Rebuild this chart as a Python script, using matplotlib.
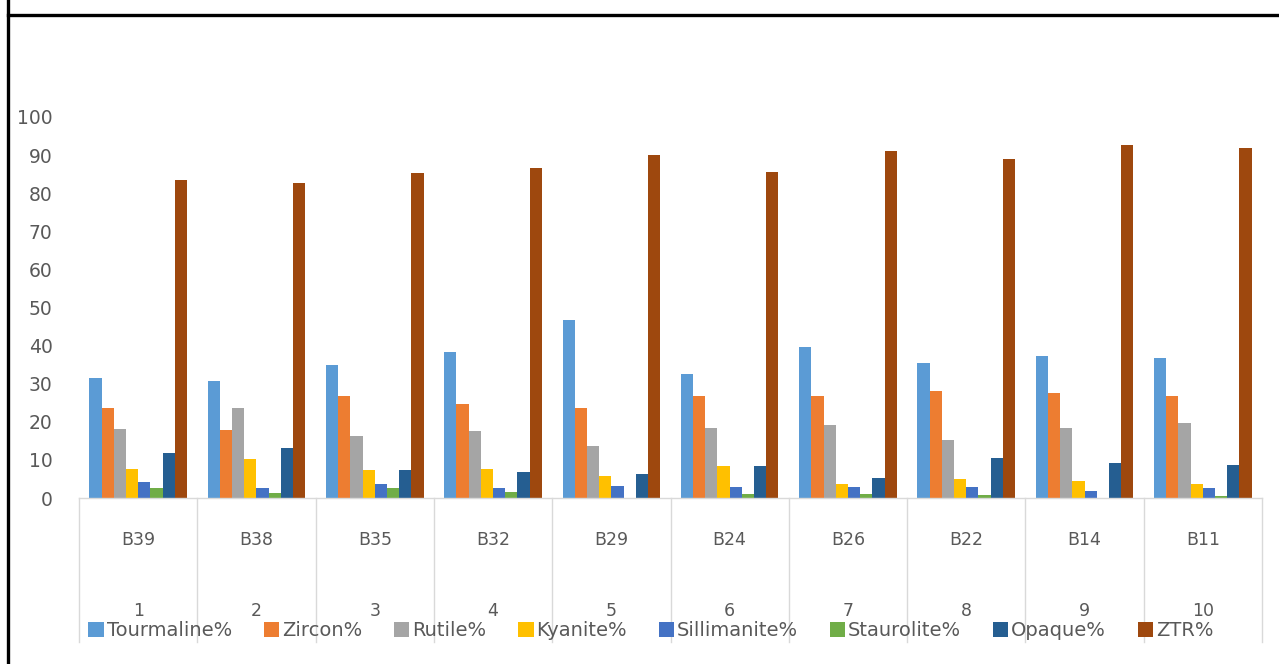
import matplotlib
matplotlib.use("Agg")
import matplotlib.pyplot as plt
from matplotlib.lines import Line2D
import numpy as np

samples = ["B39", "B38", "B35", "B32", "B29", "B24", "B26", "B22", "B14", "B11"]
sample_no = ["1", "2", "3", "4", "5", "6", "7", "8", "9", "10"]

tourmaline = [31.6, 30.6, 34.9, 38.3, 46.7, 32.5, 39.6, 35.5, 37.3, 36.7]
zircon = [23.5, 17.9, 26.8, 24.6, 23.5, 26.9, 26.9, 28.2, 27.5, 26.8]
rutile = [18.1, 23.5, 16.4, 17.7, 13.7, 18.3, 19.2, 15.1, 18.5, 19.8]
kyanite = [7.6, 10.3, 7.3, 7.6, 5.7, 8.5, 3.7, 5.0, 4.5, 3.7]
sillimanite = [4.3, 2.7, 3.7, 2.6, 3.2, 2.9, 2.9, 2.9, 1.9, 2.6]
staurolite = [2.6, 1.2, 2.6, 1.6, 0.0, 1.1, 1.0, 0.8, 0.0, 0.6]
opaque = [11.8, 13.1, 7.4, 6.7, 6.4, 8.5, 5.2, 10.6, 9.3, 8.7]
ztr = [83.4, 82.7, 85.2, 86.7, 90.0, 85.5, 91.2, 89.1, 92.6, 91.9]

series_names = ["Tourmaline%", "Zircon%", "Rutile%", "Kyanite%",
                "Sillimanite%", "Staurolite%", "Opaque%", "ZTR%"]
series_values = [tourmaline, zircon, rutile, kyanite,
                 sillimanite, staurolite, opaque, ztr]
series_colors = ["#5B9BD5", "#ED7D31", "#A5A5A5", "#FFC000",
                 "#4472C4", "#70AD47", "#255E91", "#9E480E"]

W, H = 1279, 664
fig = plt.figure(figsize=(W / 100, H / 100), dpi=100)
fig.patch.set_facecolor("white")

ax = fig.add_axes([79 / W, 1 - 498 / H, (1262 - 79) / W, (498 - 117) / H])

n_series = len(series_values)
gap = 1.69
bw = 1.0 / (n_series + gap)
x = np.arange(len(samples))
for j, (name, vals, col) in enumerate(zip(series_names, series_values, series_colors)):
    ax.bar(x + (j - (n_series - 1) / 2) * bw, vals, width=bw, color=col,
           label=name, linewidth=0)

ax.set_xlim(-0.5, len(samples) - 0.5)
ax.set_ylim(0, 100)
ax.set_yticks(np.arange(0, 101, 10))
ax.tick_params(axis="y", length=0, pad=19, labelsize=13.5, labelcolor="#595959")
ax.tick_params(axis="x", length=0, labelbottom=False)
for s in ("top", "right", "left"):
    ax.spines[s].set_visible(False)
ax.spines["bottom"].set_color("#D9D9D9")
ax.spines["bottom"].set_linewidth(1.0)

# two-level category axis: sample code above, sample number below
trans = ax.get_xaxis_transform()
ax_h = 498 - 117
y_low = -(642 - 498) / ax_h
for i in range(len(samples) + 1):
    ax.plot([i - 0.5, i - 0.5], [0, y_low], transform=trans, color="#D9D9D9",
            lw=1.0, clip_on=False)
for i, (s, n) in enumerate(zip(samples, sample_no)):
    ax.text(i, -(540 - 498) / ax_h, s, transform=trans, ha="center", va="center",
            fontsize=12.5, color="#595959")
    ax.text(i, -(611 - 498) / ax_h, n, transform=trans, ha="center", va="center",
            fontsize=12.5, color="#595959")

fig.legend(loc="center", bbox_to_anchor=(651 / W, 1 - 631 / H), ncol=8,
           frameon=False, fontsize=14, handlelength=0.8, handleheight=0.8,
           handletextpad=0.15, columnspacing=1.62, labelcolor="#595959",
           borderaxespad=0, borderpad=0)

# page frame lines
fig.add_artist(Line2D([8 / W, 8 / W], [0, 1], color="black", lw=2.4,
                      transform=fig.transFigure))
fig.add_artist(Line2D([8 / W, 1], [1 - 15 / H, 1 - 15 / H], color="black", lw=2.4,
                      transform=fig.transFigure))

fig.savefig("out.png", dpi=100, facecolor="white")
